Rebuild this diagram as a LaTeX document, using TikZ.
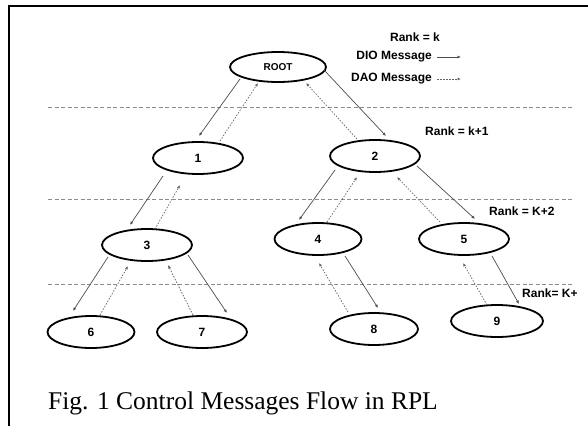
\documentclass[tikz,border=0pt]{standalone}
\usepackage{fontspec}
\setmainfont{Liberation Serif}
\newfontfamily\labfont{Liberation Sans}
\usetikzlibrary{arrows.meta,shapes.geometric}
\begin{document}
\begin{tikzpicture}[x=1pt,y=-1pt,
  nd/.style={ellipse,draw=black,line width=1.8pt,minimum width=90pt,minimum height=32pt,inner sep=0pt,
    font=\labfont\bfseries\fontsize{12}{12}\selectfont},
  dio/.style={draw=black!70,line width=0.7pt,-{Latex[length=3.5pt,width=3pt]}},
  dao/.style={draw=black!60,line width=0.7pt,dash pattern=on 1.5pt off 1.5pt,-{Latex[length=3.5pt,width=3pt]}},
  rankline/.style={draw=black!45,line width=0.8pt,dash pattern=on 4pt off 2.5pt},
  lbl/.style={font=\labfont\bfseries\fontsize{12}{12}\selectfont,inner sep=0pt}]
\useasboundingbox (0,0) rectangle (588,426);
% frame
\draw[line width=2.5pt] (9,426) -- (9,6) -- (588,6);
% rank separators
\draw[rankline] (48,107) -- (574,107);
\draw[rankline] (48,199) -- (574,199);
\draw[rankline] (48,284) -- (574,284);
% nodes
\node[nd,minimum width=96pt,minimum height=30pt,font=\labfont\bfseries\fontsize{10}{10}\selectfont] (root) at (278,67) {ROOT};
\node[nd] (n1) at (198,158) {1};
\node[nd] (n2) at (375,156) {2};
\node[nd] (n3) at (147,245) {3};
\node[nd,minimum width=87pt] (n4) at (318,239) {4};
\node[nd] (n5) at (464,239) {5};
\node[nd,minimum width=87pt] (n6) at (91,332) {6};
\node[nd] (n7) at (202,332) {7};
\node[nd,minimum width=88pt] (n8) at (374,329) {8};
\node[nd,minimum width=92pt] (n9) at (497,321) {9};
% DIO (solid, downward) and DAO (dotted, upward)
\draw[dio] ([shift={(-38,12)}]root.center) -- ([shift={(1,-22)}]n1.center);
\draw[dao] ([shift={(22,-17)}]n1.center) -- ([shift={(-20,16)}]root.center);
\draw[dio] ([shift={(46,3)}]root.center) -- ([shift={(11,-20)}]n2.center);
\draw[dao] ([shift={(-18,-17)}]n2.center) -- ([shift={(28,16)}]root.center);
\draw[dio] ([shift={(-35,18)}]n1.center) -- ([shift={(-17,-20)}]n3.center);
\draw[dao] ([shift={(8,-16)}]n3.center) -- ([shift={(-18,27)}]n1.center);
\draw[dio] ([shift={(-39,12)}]n3.center) -- ([shift={(-18,-21)}]n6.center);
\draw[dao] ([shift={(9,-17)}]n6.center) -- ([shift={(-19,21)}]n3.center);
\draw[dio] ([shift={(41,10)}]n3.center) -- ([shift={(25,-19)}]n7.center);
\draw[dao] ([shift={(-9,-17)}]n7.center) -- ([shift={(21,20)}]n3.center);
\draw[dio] ([shift={(-40,14)}]n2.center) -- ([shift={(-19,-19)}]n4.center);
\draw[dao] ([shift={(9,-17)}]n4.center) -- ([shift={(-18,21)}]n2.center);
\draw[dio] ([shift={(42,10)}]n2.center) -- ([shift={(11,-20)}]n5.center);
\draw[dao] ([shift={(-24,-17)}]n5.center) -- ([shift={(22,21)}]n2.center);
\draw[dio] ([shift={(27,17)}]n4.center) -- ([shift={(4,-21)}]n8.center);
\draw[dao] ([shift={(-26,-17)}]n8.center) -- ([shift={(1,24)}]n4.center);
\draw[dio] ([shift={(28,17)}]n5.center) -- ([shift={(22,-17)}]n9.center);
\draw[dao] ([shift={(-10,-16)}]n9.center) -- ([shift={(-1,24)}]n5.center);
% legend
\node[lbl] (rk) at (415,37) {Rank = k};
\node[lbl,anchor=east] (dio) at (432,57) {DIO Message};
\node[lbl,anchor=east] (dao) at (432,79) {DAO Message};
\draw[dio] ([xshift=5pt]dio.east) -- ([xshift=29pt]dio.east);
\draw[dao] ([xshift=5pt]dao.east) -- ([xshift=29pt]dao.east);
\node[lbl,anchor=west] (rk1) at (425,131) {Rank = k+1};
\node[lbl,anchor=west] (rk2) at (489,211) {Rank = K+2};
\node[lbl,anchor=west] (rk3) at (522,293) {Rank= K+};
% caption
\node[anchor=base west,inner sep=0pt,font=\fontsize{25.5}{25.5}\selectfont] (cap) at (48,409) {Fig. 1 Control Messages Flow in RPL};
\end{tikzpicture}
\end{document}
